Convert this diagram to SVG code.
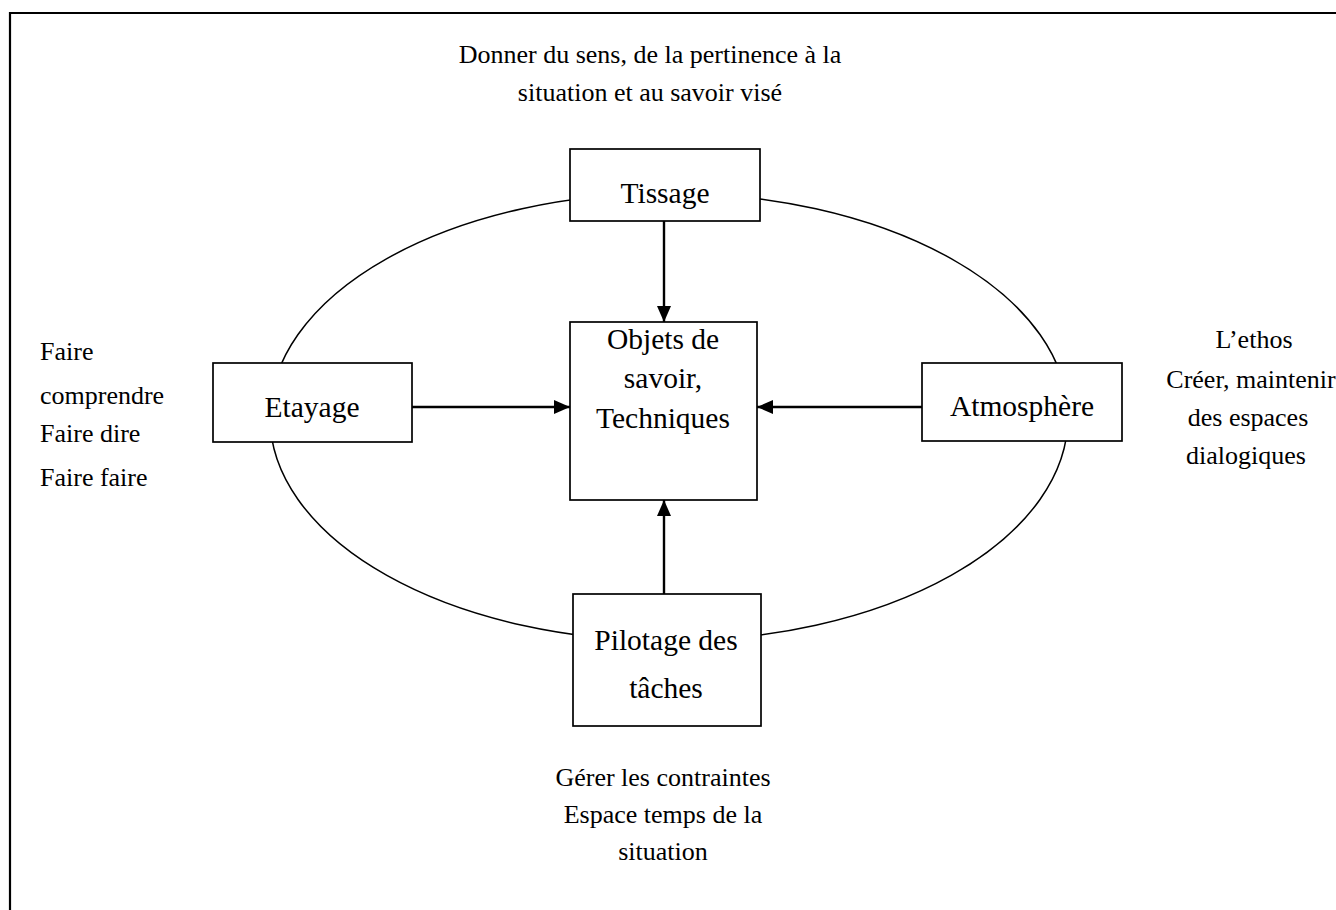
<svg xmlns="http://www.w3.org/2000/svg" width="1336" height="910" viewBox="0 0 1336 910">
<style>
.box{fill:#fff;stroke:#000;stroke-width:1.7}
.t{font-family:"Liberation Serif","Times New Roman",serif;font-size:26px;fill:#000}
.bt{font-family:"Liberation Serif","Times New Roman",serif;font-size:29.5px;fill:#000;text-anchor:middle}
.c{text-anchor:middle}
.arr{stroke:#000;stroke-width:2.4;fill:none;marker-end:url(#ah)}
</style>
<defs>
<marker id="ah" markerWidth="16" markerHeight="14" refX="16" refY="7" orient="auto" markerUnits="userSpaceOnUse">
<path d="M0,0 L16,7 L0,14 Z" fill="#000"/>
</marker>
</defs>
<rect width="1336" height="910" fill="#fff"/>
<g id="frame">
<line x1="10" y1="13" x2="1336" y2="13" stroke="#000" stroke-width="2.2"/>
<line x1="10" y1="12" x2="10" y2="910" stroke="#000" stroke-width="2.2"/>
</g>
<ellipse id="cycle" cx="669" cy="417" rx="399" ry="224" fill="none" stroke="#000" stroke-width="1.5"/>
<g id="connectors">
<line class="arr" x1="664" y1="221" x2="664" y2="322"/>
<line class="arr" x1="412" y1="407" x2="570" y2="407"/>
<line class="arr" x1="922" y1="407" x2="757" y2="407"/>
<line class="arr" x1="664" y1="594" x2="664" y2="500"/>
</g>
<g id="tissage">
<rect class="box" x="570" y="149" width="190" height="72"/>
<text class="bt" x="665" y="203">Tissage</text>
</g>
<g id="etayage">
<rect class="box" x="213" y="363" width="199" height="79"/>
<text class="bt" x="312" y="417">Etayage</text>
</g>
<g id="atmosphere">
<rect class="box" x="922" y="363" width="200" height="78"/>
<text class="bt" x="1022" y="416">Atmosphère</text>
</g>
<g id="objets">
<rect class="box" x="570" y="322" width="187" height="178"/>
<text class="bt" x="663" y="349">Objets de</text>
<text class="bt" x="663" y="388">savoir,</text>
<text class="bt" x="663" y="428">Techniques</text>
</g>
<g id="pilotage">
<rect class="box" x="573" y="594" width="188" height="132"/>
<text class="bt" x="666" y="650">Pilotage des</text>
<text class="bt" x="666" y="698">tâches</text>
</g>
<g id="top-text">
<text class="t c" x="650" y="63">Donner du sens, de la pertinence à la</text>
<text class="t c" x="650" y="101">situation et au savoir visé</text>
</g>
<g id="left-text">
<text class="t" x="40" y="360">Faire</text>
<text class="t" x="40" y="404">comprendre</text>
<text class="t" x="40" y="442">Faire dire</text>
<text class="t" x="40" y="486">Faire faire</text>
</g>
<g id="right-text">
<text class="t c" x="1254" y="348">L’ethos</text>
<text class="t c" x="1251" y="388">Créer, maintenir</text>
<text class="t c" x="1248" y="426">des espaces</text>
<text class="t c" x="1246" y="464">dialogiques</text>
</g>
<g id="bottom-text">
<text class="t c" x="663" y="786">Gérer les contraintes</text>
<text class="t c" x="663" y="823">Espace temps de la</text>
<text class="t c" x="663" y="860">situation</text>
</g>
</svg>
